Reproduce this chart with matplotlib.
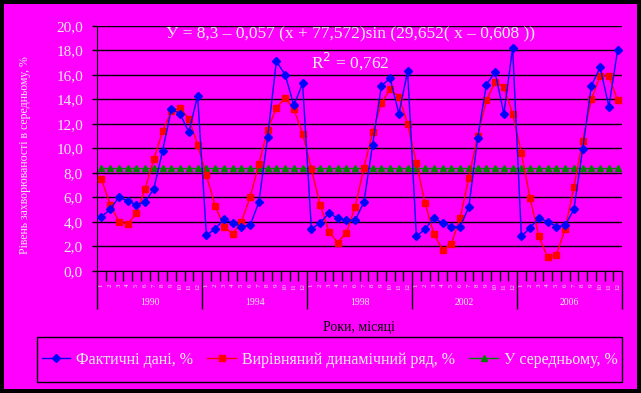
import matplotlib.pyplot as plt
from matplotlib.patches import Rectangle
from matplotlib.transforms import blended_transform_factory

plt.rcParams['font.family'] = ['Liberation Serif', 'DejaVu Serif']

years = ['1990', '1994', '1998', '2002', '2006']
months = [str(m) for m in range(1, 13)]

actual = [4.4, 5.0, 6.0, 5.7, 5.4, 5.6, 6.7, 9.8, 13.2, 12.8, 11.3, 14.3,
          2.9, 3.4, 4.2, 3.9, 3.6, 3.7, 5.6, 10.9, 17.1, 16.0, 13.5, 15.3,
          3.4, 3.9, 4.7, 4.3, 4.1, 4.1, 5.6, 10.3, 15.1, 15.7, 12.8, 16.3,
          2.8, 3.4, 4.3, 3.9, 3.6, 3.6, 5.2, 10.8, 15.2, 16.2, 12.8, 18.2,
          2.8, 3.5, 4.3, 4.0, 3.6, 3.7, 5.0, 9.9, 15.1, 16.6, 13.4, 18.0]
fitted = [7.5, 5.4, 4.0, 3.8, 4.7, 6.7, 9.1, 11.4, 13.0, 13.3, 12.4, 10.3,
          7.8, 5.3, 3.6, 3.0, 4.0, 6.0, 8.7, 11.5, 13.3, 14.1, 13.2, 11.2,
          8.3, 5.4, 3.2, 2.3, 3.1, 5.2, 8.4, 11.3, 13.7, 14.8, 14.2, 12.0,
          8.8, 5.5, 3.0, 1.7, 2.2, 4.3, 7.6, 11.0, 13.9, 15.4, 15.0, 12.8,
          9.6, 5.9, 2.8, 1.1, 1.3, 3.4, 6.8, 10.6, 14.0, 15.9, 15.9, 13.9]
avg_level = 8.35
average = [avg_level] * len(actual)
labels = ['Фактичні дані, %', 'Вирівняний динамічний ряд, %', 'У середньому, %']

magenta = '#ff00ff'
light = '#ececec'
W, H = 641, 393
px = 0.72  # points per pixel at 100 dpi

fig = plt.figure(figsize=(W / 100, H / 100), dpi=100)
fig.patch.set_facecolor('black')
fig.patches.append(Rectangle((4 / W, 4 / H), 633 / W, 385 / H,
                             transform=fig.transFigure, facecolor=magenta,
                             edgecolor='none', zorder=-10))
# legend frame
fig.patches.append(Rectangle((37 / W, 1 - 382 / H), 585 / W, 45 / H,
                             transform=fig.transFigure, facecolor='none',
                             edgecolor='black', lw=1, zorder=-5))

ax = fig.add_axes([97 / W, (H - 270.7) / H, 525 / W, 245 / H])
ax.set_facecolor(magenta)
x = list(range(len(actual)))

l3, = ax.plot(x, average, color='green', marker='^', markersize=5, lw=1, zorder=3)
l2, = ax.plot(x, fitted, color='red', marker='s', markersize=5, lw=1, zorder=4)
l1, = ax.plot(x, actual, color='blue', marker='D', markersize=4, lw=1, zorder=5)

ax.set_xlim(-0.5, len(x) - 0.5)
ax.set_ylim(0, 20)
ax.set_yticks(range(0, 21, 2))
ax.set_yticklabels([f'{v:.1f}'.replace('.', ',') for v in range(0, 21, 2)],
                   fontsize=11, color=light)
ax.yaxis.grid(True, color='black', lw=1)
ax.tick_params(axis='y', length=5 * px, width=1, pad=9 * px)

# category axis: month ticks + year groups
n_m = len(months)
ax.set_xticks([i * n_m - 0.5 for i in range(len(years) + 1)])
ax.set_xticklabels([])
ax.set_xticks([i - 0.5 for i in range(len(x) + 1)], minor=True)
ax.tick_params(axis='x', which='major', length=38 * px, width=1, color='black')
ax.tick_params(axis='x', which='minor', length=10 * px, width=1, color='black')
trans = blended_transform_factory(ax.transData, ax.transAxes)
for i in x:
    ax.text(i, -0.052, months[i % n_m], transform=trans, rotation=90,
            ha='center', va='top', fontsize=5, color=light)
for k, yr in enumerate(years):
    ax.text(k * n_m + (n_m - 1) / 2, -0.13, yr, transform=trans,
            ha='center', va='center', fontsize=7, color=light)

for side in ['top', 'right']:
    ax.spines[side].set_visible(False)
for side in ['left', 'bottom']:
    ax.spines[side].set_color('black')

ax.text(0.483, 0.965, 'У = 8,3 – 0,057 (x + 77,572)sin (29,652( x – 0,608 ))',
        transform=ax.transAxes, ha='center', va='center', fontsize=12.5,
        color=light)
ax.text(0.483, 0.855, 'R$^2$ = 0,762', transform=ax.transAxes, ha='center',
        va='center', fontsize=12.5, color=light)

fig.text(359 / W, 1 - 327 / H, 'Роки, місяці', ha='center', va='center',
         fontsize=10, color='black')
fig.text(25 / W, 1 - 155 / H, 'Рівень захворюваності в середньому, %',
         rotation=90, ha='center', va='center', fontsize=8.5, color=light)

leg = fig.legend([l1, l2, l3], labels, loc='center',
                 bbox_to_anchor=(329.5 / W, 1 - 360 / H), ncol=3,
                 prop={'family': ['Liberation Serif'], 'size': 11.5},
                 frameon=False, handlelength=1.8,
                 handletextpad=0.35, columnspacing=0.9, labelcolor=light)

fig.savefig('out.png', dpi=100, facecolor=fig.get_facecolor())
